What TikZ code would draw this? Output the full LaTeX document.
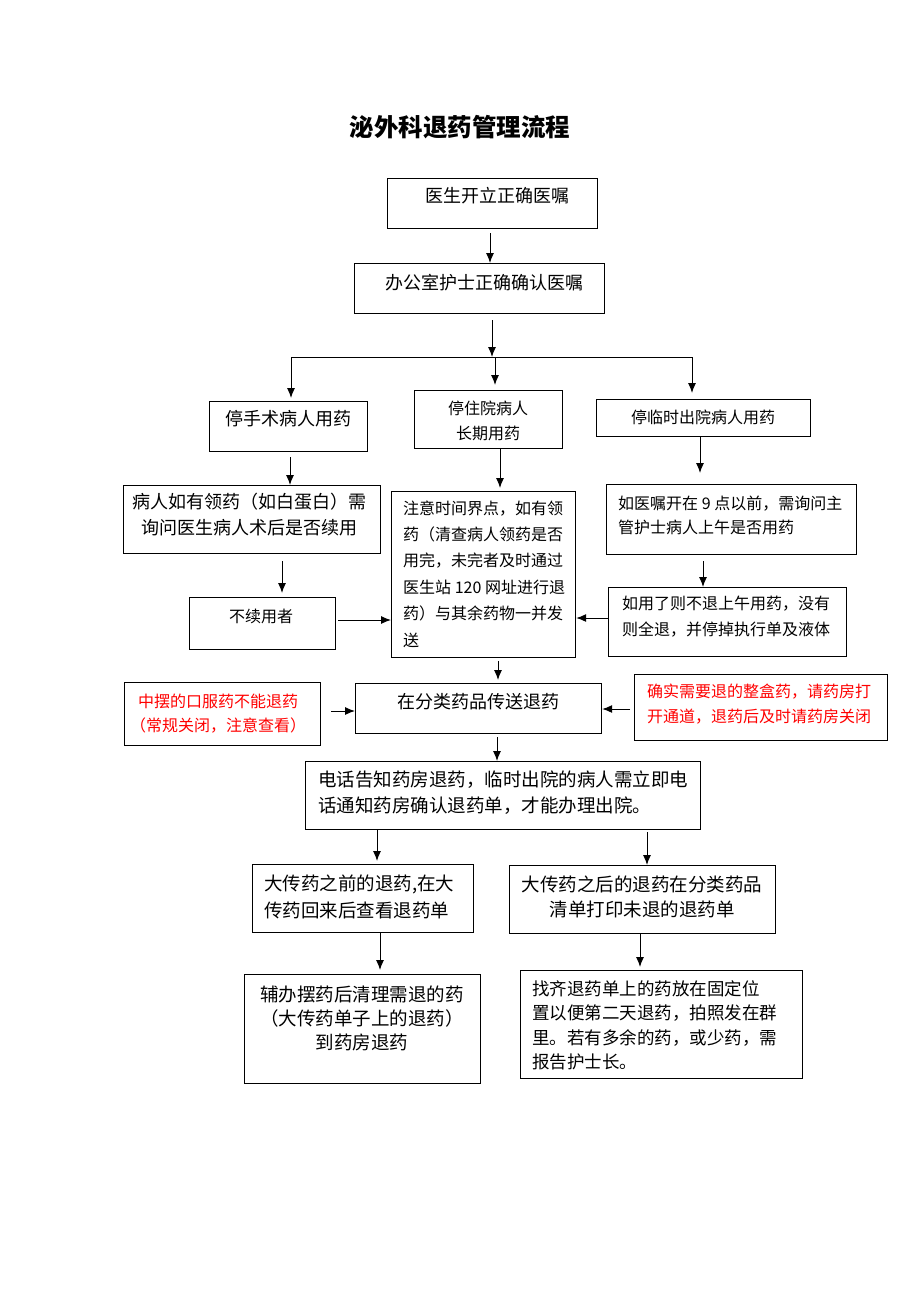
\documentclass[tikz,border=0pt]{standalone}
\usepackage{fontspec}
\setmainfont{Noto Sans CJK SC}
\usetikzlibrary{arrows.meta}
\begin{document}
\begin{tikzpicture}[x=1pt,y=-1pt,
  box/.style={draw, line width=1.2pt, inner sep=0pt, anchor=north west},
  txt/.style={inner sep=0pt},
  fa/.style={font=\fontsize{18}{26}\selectfont},
  fb/.style={font=\fontsize{16}{25}\selectfont},
  arr/.style={line width=1pt, -{Latex[length=10pt,width=8pt]}},
  ln/.style={line width=1pt},
  redt/.style={text=red}]
\useasboundingbox (0,0) rectangle (920,1302);
\fill[white] (0,0) rectangle (920,1302);

\node[txt, font=\fontsize{24.5}{28}\selectfont\bfseries] (title) at (460,127) {泌外科退药管理流程};

% boxes
\node[box, minimum width=210pt, minimum height=50pt] (b1) at (387,178) {};
\node[box, minimum width=250pt, minimum height=50pt] (b2) at (354,263) {};
\node[box, minimum width=158pt, minimum height=50pt] (b3) at (209,401) {};
\node[box, minimum width=148pt, minimum height=58pt] (b4) at (414,390) {};
\node[box, minimum width=214pt, minimum height=37pt] (b5) at (596,399) {};
\node[box, minimum width=257pt, minimum height=68pt] (b6) at (123,485) {};
\node[box, minimum width=184pt, minimum height=166pt] (b7) at (391,491) {};
\node[box, minimum width=250pt, minimum height=70pt] (b8) at (606,484) {};
\node[box, minimum width=238pt, minimum height=69pt] (b9) at (608,587) {};
\node[box, minimum width=146pt, minimum height=52pt] (b10) at (189,597) {};
\node[box, minimum width=246pt, minimum height=50pt] (b11) at (355,683) {};
\node[box, minimum width=196pt, minimum height=63pt] (b12) at (124,682) {};
\node[box, minimum width=253pt, minimum height=66pt] (b13) at (634,674) {};
\node[box, minimum width=395pt, minimum height=68pt] (b14) at (305,761) {};
\node[box, minimum width=221pt, minimum height=68pt] (b15) at (252,864) {};
\node[box, minimum width=266pt, minimum height=68pt] (b16) at (509,865) {};
\node[box, minimum width=236pt, minimum height=109pt] (b17) at (244,974) {};
\node[box, minimum width=282pt, minimum height=108pt] (b18) at (520,970) {};

% texts
\node[txt, fa] (t1) at (497,196) {医生开立正确医嘱};
\node[txt, fa] (t2) at (484,283) {办公室护士正确确认医嘱};
\node[txt, fa] (t3) at (288,419) {停手术病人用药};
\node[txt, fb, align=center] (t4) at (488,420.5) {停住院病人\\长期用药};
\node[txt, fb] (t5) at (703,417) {停临时出院病人用药};
\node[txt, fa, align=center] (t6) at (249,515) {病人如有领药（如白蛋白）需\\询问医生病人术后是否续用};
\node[txt, font=\fontsize{16}{26.4}\selectfont, align=left, anchor=west] (t7) at (403,574)
  {注意时间界点，如有领\\药（清查病人领药是否\\用完，未完者及时通过\\医生站 120 网址进行退\\药）与其余药物一并发\\送};
\node[txt, font=\fontsize{16}{24}\selectfont, align=left, anchor=west] (t8) at (618,515)
  {如医嘱开在 9 点以前，需询问主\\管护士病人上午是否用药};
\node[txt, font=\fontsize{16}{26}\selectfont, align=left, anchor=west] (t9) at (622,617)
  {如用了则不退上午用药，没有\\则全退，并停掉执行单及液体};
\node[txt, fb] (t10) at (261,616) {不续用者};
\node[txt, fa] (t11) at (478,702) {在分类药品传送退药};
\node[txt, font=\fontsize{16}{24}\selectfont, align=center, redt] (t12) at (218,714)
  {中摆的口服药不能退药\\（常规关闭，注意查看）};
\node[txt, fb, align=left, anchor=west, redt] (t13) at (647,704.5)
  {确实需要退的整盒药，请药房打\\开通道，退药后及时请药房关闭};
\node[txt, font=\fontsize{18.5}{26}\selectfont, align=left, anchor=west] (t14) at (318,793)
  {电话告知药房退药，临时出院的病人需立即电\\话通知药房确认退药单，才能办理出院。};
\node[txt, font=\fontsize{18.5}{27}\selectfont, align=left, anchor=west] (t15) at (264,896.5)
  {大传药之前的退药,在大\\传药回来后查看退药单};
\node[txt, font=\fontsize{18.5}{25}\selectfont, align=center] (t16) at (642,896.5)
  {大传药之后的退药在分类药品\\清单打印未退的退药单};
\node[txt, font=\fontsize{18.5}{24}\selectfont, align=center] (t17) at (362,1018)
  {辅办摆药后清理需退的药\\（大传药单子上的退药）\\到药房退药};
\node[txt, font=\fontsize{17.5}{24.5}\selectfont, align=left, anchor=west] (t18) at (532,1025.5)
  {找齐退药单上的药放在固定位\\置以便第二天退药，拍照发在群\\里。若有多余的药，或少药，需\\报告护士长。};

% junction
\coordinate (j) at (492,357);
\coordinate (jl) at (291,357);
\coordinate (jm) at (495,357);
\coordinate (jr) at (692,357);

% connectors
\draw[arr, shorten <=4pt] (b1.south -| 490,0) -- (b2.north -| 490,0);
\draw[arr, shorten <=6pt] (b2.south -| j) -- (j);
\draw[ln] (jl) -- (jr);
\draw[arr, shorten >=3pt] (jl) -- (b3.north -| jl);
\draw[arr, shorten >=5pt] (jm) -- (b4.north -| jm);
\draw[arr, shorten >=6pt] (jr) -- (b5.north -| jr);
\draw[arr, shorten <=5pt] (b3.south -| 290,0) -- (b6.north -| 290,0);
\draw[arr, shorten >=3pt] (b4.south -| 500,0) -- (b7.north -| 500,0);
\draw[arr, shorten >=11pt] (b5.south -| 700,0) -- (b8.north -| 700,0);
\draw[arr, shorten <=6pt] (b8.south -| 703,0) -- (b9.north -| 703,0);
\draw[arr] (b9.west |- 0,618) -- (b7.east |- 0,618);
\draw[arr, shorten <=7pt, shorten >=4pt] (b6.south -| 282,0) -- (b10.north -| 282,0);
\draw[arr, shorten <=2pt] (b10.east |- 0,620) -- (b7.west |- 0,620);
\draw[arr, shorten <=3pt, shorten >=3pt] (b7.south -| 498,0) -- (b11.north -| 498,0);
\draw[arr, shorten <=10pt] (b12.east |- 0,711) -- (b11.west |- 0,711);
\draw[arr, shorten <=4pt] (b13.west |- 0,709) -- (b11.east |- 0,709);
\draw[arr, shorten <=3pt] (b11.south -| 497,0) -- (b14.north -| 497,0);
\draw[arr, shorten >=3pt] (b14.south -| 377,0) -- (b15.north -| 377,0);
\draw[arr, shorten <=2pt] (b14.south -| 647,0) -- (b16.north -| 647,0);
\draw[arr, shorten >=4pt] (b15.south -| 380,0) -- (b17.north -| 380,0);
\draw[arr, shorten >=3pt] (b16.south -| 640,0) -- (b18.north -| 640,0);
\end{tikzpicture}
\end{document}
